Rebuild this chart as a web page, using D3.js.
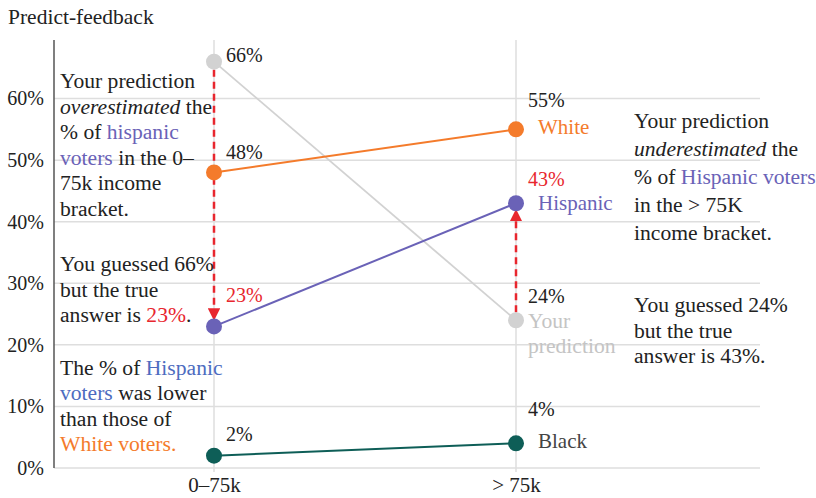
<!DOCTYPE html>
<html>
<head>
<meta charset="utf-8">
<script src="https://cdn.jsdelivr.net/npm/d3@7"></script>
<style>
  body { margin: 0; background: #fff; }
  text { font-family: "Liberation Serif", "DejaVu Serif", serif; }
</style>
</head>
<body>
<div id="chart"></div>
<script>
// Chart data
const categories = ["0–75k", "> 75k"];
const whiteValues = [48, 55];
const hispanicValues = [23, 43];
const blackValues = [2, 4];
const predictionValues = [66, 24];
const yTicks = [0, 10, 20, 30, 40, 50, 60];

const width = 816;
const height = 498;

const svg = d3.select("#chart")
    .append("svg")
    .attr("width", width)
    .attr("height", height);

const x = d3.scalePoint()
    .domain(categories)
    .range([214, 516]);

const y = d3.scaleLinear()
    .domain([0, 70])
    .range([468, 37]);

const noteSize = 21.6;   // annotation blocks
const fontSize = 21;     // names and x labels
const smallSize = 20;    // ticks and value labels
const red = "#e8262e";
const purple = "#6a62b7";
const orange = "#f47b2b";
const teal = "#0e5e57";
const lightGray = "#d2d2d2";

// Title
svg.append("text")
    .attr("x", 8)
    .attr("y", 24)
    .attr("font-size", 21.5)
    .attr("fill", "#222")
    .text("Predict-feedback");

// Gridlines
const grid = svg.append("g");
grid.selectAll("line.h")
    .data(yTicks)
    .enter().append("line")
    .attr("x1", 54).attr("x2", 760)
    .attr("y1", d => y(d)).attr("y2", d => y(d))
    .attr("stroke", "#dedede")
    .attr("stroke-width", 1.5);
grid.selectAll("line.v")
    .data(categories)
    .enter().append("line")
    .attr("x1", d => x(d)).attr("x2", d => x(d))
    .attr("y1", y(69.5)).attr("y2", y(0) + 4)
    .attr("stroke", "#dedede")
    .attr("stroke-width", 1.5);

// Y axis
const yAxis = d3.axisLeft(y)
    .tickValues(yTicks)
    .tickSize(0)
    .tickPadding(10)
    .tickFormat(d => d + "%");
const yAxisG = svg.append("g")
    .attr("transform", "translate(54,0)")
    .call(yAxis);
yAxisG.select(".domain").remove();
yAxisG.selectAll("text")
    .attr("font-size", smallSize)
    .attr("font-family", "Liberation Serif")
    .attr("fill", "#222");
svg.append("line")
    .attr("x1", 54).attr("x2", 54)
    .attr("y1", y(69.5)).attr("y2", y(0))
    .attr("stroke", "#555")
    .attr("stroke-width", 1.5);

// X axis labels
const xAxis = d3.axisBottom(x).tickSize(0).tickPadding(9);
const xAxisG = svg.append("g")
    .attr("transform", `translate(0,${y(0)})`)
    .call(xAxis);
xAxisG.select(".domain").remove();
xAxisG.selectAll("text")
    .attr("font-size", fontSize)
    .attr("font-family", "Liberation Serif")
    .attr("fill", "#222");

// Series
const series = [
    { name: "prediction", values: predictionValues, color: lightGray, width: 1.8 },
    { name: "white", values: whiteValues, color: orange, width: 2 },
    { name: "hispanic", values: hispanicValues, color: purple, width: 2 },
    { name: "black", values: blackValues, color: teal, width: 2 }
];

const line = d3.line()
    .x((d, i) => x(categories[i]))
    .y(d => y(d));

// Arrow marker
svg.append("defs").append("marker")
    .attr("id", "arrow")
    .attr("viewBox", "0 0 10 10")
    .attr("refX", 5).attr("refY", 5)
    .attr("markerWidth", 5).attr("markerHeight", 5)
    .attr("orient", "auto")
    .append("path")
    .attr("d", "M0,0 L10,5 L0,10 Z")
    .attr("fill", red);

series.forEach(s => {
    svg.append("path")
        .datum(s.values)
        .attr("d", line)
        .attr("fill", "none")
        .attr("stroke", s.color)
        .attr("stroke-width", s.width);
});

// Red dashed arrows from prediction to truth
const arrows = [
    { cat: categories[0], from: predictionValues[0], to: hispanicValues[0] },
    { cat: categories[1], from: predictionValues[1], to: hispanicValues[1] }
];
svg.selectAll("line.arrow")
    .data(arrows)
    .enter().append("line")
    .attr("x1", d => x(d.cat)).attr("x2", d => x(d.cat))
    .attr("y1", d => y(d.from) + (d.from > d.to ? 8 : -8))
    .attr("y2", d => y(d.to) + (d.from > d.to ? -12 : 12))
    .attr("stroke", red)
    .attr("stroke-width", 2.5)
    .attr("stroke-dasharray", "7,5")
    .attr("marker-end", "url(#arrow)");

series.forEach(s => {
    svg.selectAll(null)
        .data(s.values)
        .enter().append("circle")
        .attr("cx", (d, i) => x(categories[i]))
        .attr("cy", d => y(d))
        .attr("r", 8)
        .attr("fill", s.color);
});

// Value labels
const valueLabels = [
    { v: predictionValues[0], i: 0, dy: -7, color: "#222" },
    { v: whiteValues[0], i: 0, dy: -20, color: "#222" },
    { v: hispanicValues[0], i: 0, dy: -31, color: red },
    { v: blackValues[0], i: 0, dy: -22, color: "#222" },
    { v: whiteValues[1], i: 1, dy: -29, color: "#222" },
    { v: hispanicValues[1], i: 1, dy: -24, color: red },
    { v: predictionValues[1], i: 1, dy: -24, color: "#222" },
    { v: blackValues[1], i: 1, dy: -34, color: "#222" }
];
svg.selectAll("text.val")
    .data(valueLabels)
    .enter().append("text")
    .attr("x", d => x(categories[d.i]) + 12)
    .attr("y", d => y(d.v) + d.dy)
    .attr("dy", "0.35em")
    .attr("font-size", smallSize)
    .attr("fill", d => d.color)
    .text(d => d.v + "%");

// Series name labels
const nameLabels = [
    { text: "White", v: whiteValues[1], dy: -3, color: orange },
    { text: "Hispanic", v: hispanicValues[1], dy: -1, color: purple },
    { text: "Black", v: blackValues[1], dy: -3, color: "#444" }
];
svg.selectAll("text.name")
    .data(nameLabels)
    .enter().append("text")
    .attr("x", x(categories[1]) + 22)
    .attr("y", d => y(d.v) + d.dy)
    .attr("dy", "0.35em")
    .attr("font-size", fontSize)
    .attr("fill", d => d.color)
    .text(d => d.text);

const predLabel = svg.append("text")
    .attr("x", x(categories[1]) + 12)
    .attr("y", y(predictionValues[1]))
    .attr("font-size", noteSize)
    .attr("fill", "#c4c4c4");
predLabel.append("tspan").attr("x", x(categories[1]) + 12).attr("dy", "0.35em").text("Your");
predLabel.append("tspan").attr("x", x(categories[1]) + 12).attr("dy", 25).text("prediction");

// Annotation blocks: each line is a list of [text, color, italic]
const dark = "#222";
const blueText = "#4d6cbf";
const noteOverLeft = [
    [["Your prediction", dark]],
    [["overestimated", dark, true], [" the", dark]],
    [["% of ", dark], ["hispanic", purple]],
    [["voters", purple], [" in the 0–", dark]],
    [["75k income", dark]],
    [["bracket.", dark]]
];
const noteGuessLeft = [
    [["You guessed 66%", dark]],
    [["but the true", dark]],
    [["answer is ", dark], ["23%", red], [".", dark]]
];
const noteCompare = [
    [["The % of ", dark], ["Hispanic", blueText]],
    [["voters", blueText], [" was lower", dark]],
    [["than those of", dark]],
    [["White voters.", orange]]
];
const noteUnderRight = [
    [["Your prediction", dark]],
    [["underestimated", dark, true], [" the", dark]],
    [["% of ", dark], ["Hispanic voters", purple]],
    [["in the > 75K", dark]],
    [["income bracket.", dark]]
];
const noteGuessRight = [
    [["You guessed 24%", dark]],
    [["but the true", dark]],
    [["answer is 43%.", dark]]
];

function drawNote(lines, x0, y0, lineHeight) {
    const t = svg.append("text")
        .attr("font-size", noteSize)
        .attr("fill", dark);
    lines.forEach((segs, li) => {
        segs.forEach((s, si) => {
            const sp = t.append("tspan")
                .attr("fill", s[1])
                .attr("font-style", s[2] ? "italic" : "normal")
                .text(s[0]);
            if (si === 0) sp.attr("x", x0).attr("y", y0 + li * lineHeight);
        });
    });
    t.attr("dominant-baseline", "middle");
}

drawNote(noteOverLeft, 60, 83, 25.6);
drawNote(noteGuessLeft, 60, 266, 25.6);
drawNote(noteCompare, 60, 370, 25.4);
drawNote(noteUnderRight, 634, 123, 28);
drawNote(noteGuessRight, 634, 307, 25.5);
</script>
</body>
</html>
